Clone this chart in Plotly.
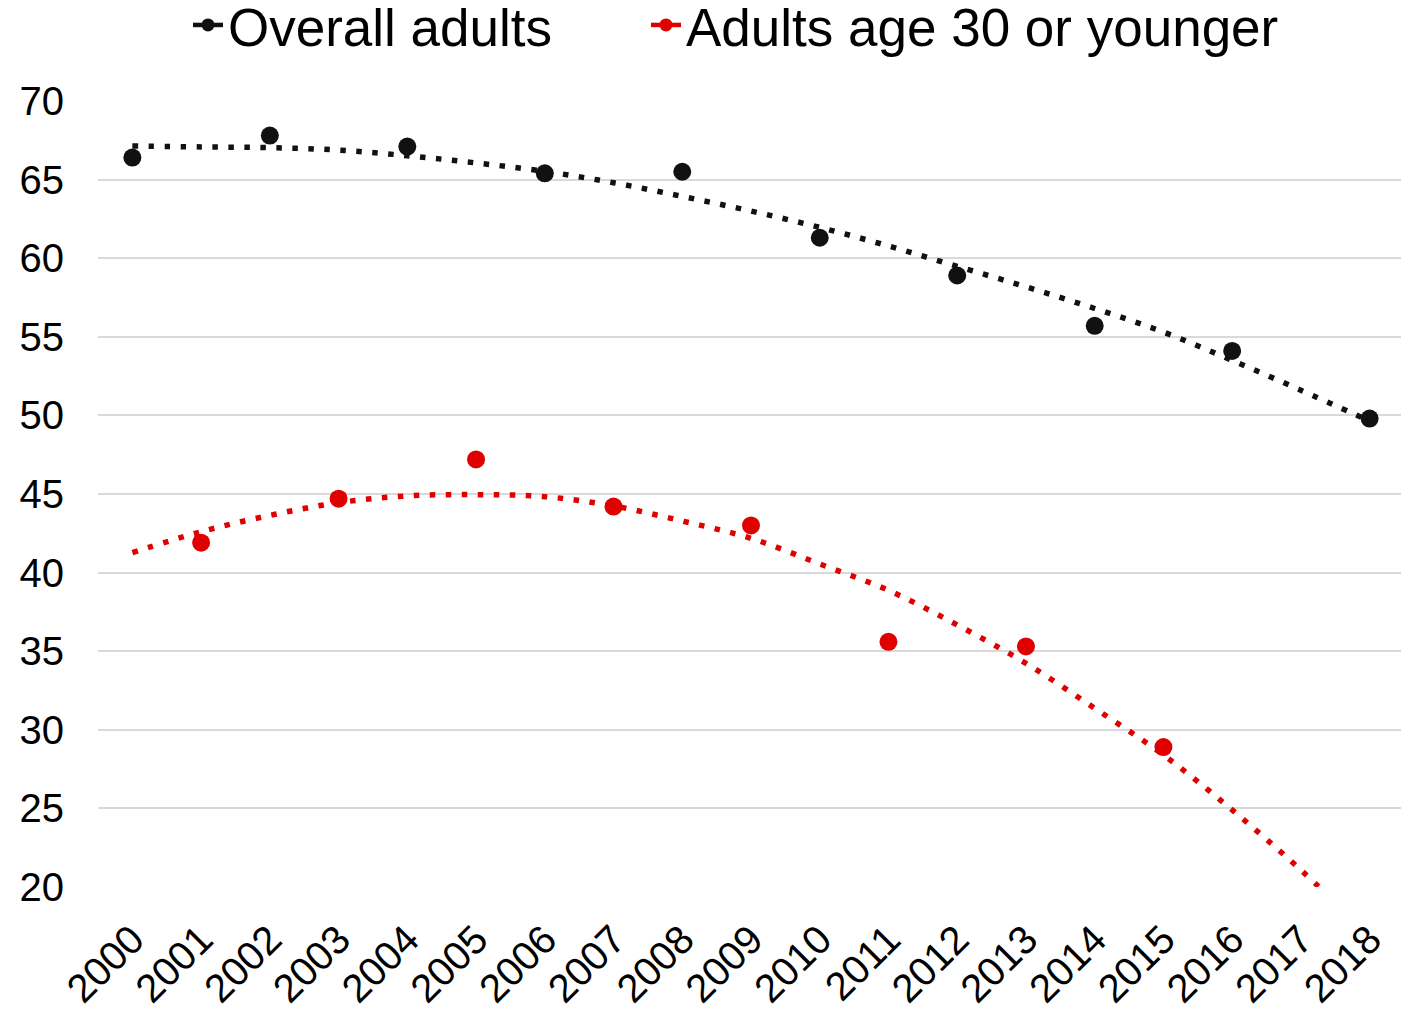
import plotly.graph_objects as go

# ---- data ----
years = list(range(2000, 2019))
tick_labels = [str(y) for y in years]

overall_years = [2000, 2002, 2004, 2006, 2008, 2010, 2012, 2014, 2016, 2018]
overall_vals = [66.4, 67.8, 67.1, 65.4, 65.5, 61.3, 58.9, 55.7, 54.1, 49.8]

young_years = [2001, 2003, 2005, 2007, 2009, 2011, 2013, 2015]
young_vals = [41.9, 44.7, 47.2, 44.2, 43.0, 35.6, 35.3, 28.9]

# dotted trend lines (one value per year)
overall_trend = [67.14, 67.08, 67.03, 66.88, 66.52, 66.06, 65.52, 64.8, 63.93,
                 63.0, 61.96, 60.78, 59.48, 58.18, 56.8, 55.3, 53.5, 51.6, 49.64]
young_trend = [41.27, 42.6, 43.64, 44.45, 44.88, 44.96, 44.83, 44.24, 43.28,
               42.18, 40.55, 38.87, 36.67, 34.23, 31.37, 28.4, 24.9, 21.08, 16.9]

series_names = ["Overall adults", "Adults age 30 or younger"]
BLACK = "#111111"
RED = "#e00000"
FONT = "Liberation Sans, Arial, sans-serif"

# the page body adds an 8px offset; figure size compensates for it
W, H = 1401, 1007
ML, MR, MT, MB = 90, 5, 93, 128
PW = W - ML - MR

fig = go.Figure()

# trend lines
fig.add_trace(go.Scatter(x=years, y=overall_trend, mode="lines", line_shape="spline",
                         line=dict(color=BLACK, width=5.5, dash="5.5px,10.5px"),
                         showlegend=False, hoverinfo="skip"))
fig.add_trace(go.Scatter(x=years, y=young_trend, mode="lines", line_shape="spline",
                         line=dict(color=RED, width=5.5, dash="5.5px,10.5px"),
                         showlegend=False, hoverinfo="skip"))

# data markers
fig.add_trace(go.Scatter(x=overall_years, y=overall_vals, mode="markers",
                         marker=dict(color=BLACK, size=18), showlegend=False,
                         name=series_names[0]))
fig.add_trace(go.Scatter(x=young_years, y=young_vals, mode="markers",
                         marker=dict(color=RED, size=18), showlegend=False,
                         name=series_names[1]))

# legend entries (line + marker symbol)
fig.add_trace(go.Scatter(x=[None], y=[None], mode="lines+markers", name=series_names[0],
                         line=dict(color=BLACK, width=4.5), marker=dict(color=BLACK, size=13),
                         legend="legend"))
fig.add_trace(go.Scatter(x=[None], y=[None], mode="lines+markers", name=series_names[1],
                         line=dict(color=RED, width=4.5), marker=dict(color=RED, size=13),
                         legend="legend2"))

leg_common = dict(orientation="h", xanchor="left", yref="container",
                  y=1 - 17 / H, yanchor="middle",
                  font=dict(size=53, family=FONT), bgcolor="rgba(0,0,0,0)", borderwidth=0)

fig.update_layout(
    width=W, height=H,
    margin=dict(l=ML, r=MR, t=MT, b=MB, autoexpand=False),
    paper_bgcolor="white", plot_bgcolor="white",
    font=dict(family=FONT, color="black", size=40),
    legend=dict(x=(180 - ML) / PW, **leg_common),
    legend2=dict(x=(638 - ML) / PW, **leg_common),
    showlegend=True,
)
fig.update_xaxes(range=[1999.5, 2018.5], tickmode="array", tickvals=years,
                 ticktext=tick_labels, tickangle=-45, showgrid=False, zeroline=False,
                 showline=False, ticks="", tickfont=dict(size=40, family=FONT),
                 ticklabelstandoff=20)
fig.update_yaxes(range=[20, 70], tickmode="array", tickvals=list(range(20, 75, 5)),
                 showgrid=True, gridcolor="#d9d9d9", gridwidth=2, zeroline=False,
                 showline=False, ticks="", tickfont=dict(size=40, family=FONT),
                 ticklabelstandoff=33)

fig.write_html("out.html")
